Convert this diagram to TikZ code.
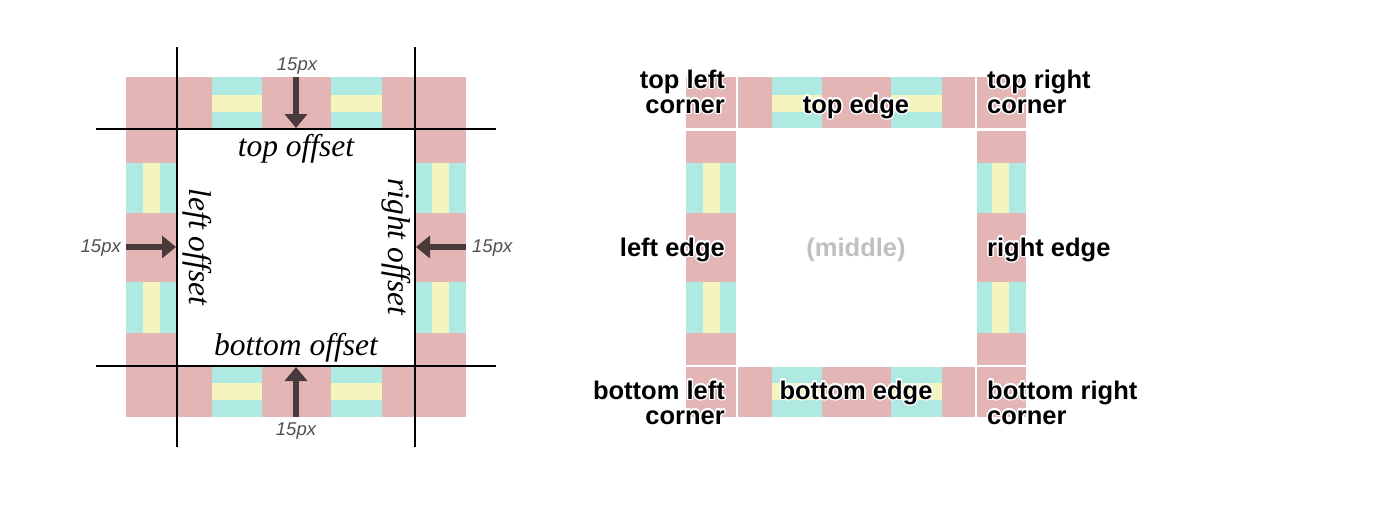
\documentclass[tikz,border=0pt]{standalone}
\usepackage{fontspec}
\setmainfont{Liberation Serif}
\setsansfont{Liberation Sans}
\usepackage[copies]{contour}
\contourlength{1.3pt}
\contournumber{20}
\usetikzlibrary{arrows.meta}
\definecolor{tilepink}{RGB}{228,181,181}
\definecolor{tilecyan}{RGB}{174,234,226}
\definecolor{tileyellow}{RGB}{244,244,190}
\definecolor{arrowbrown}{RGB}{72,58,58}
\definecolor{pxgray}{RGB}{80,80,80}
\definecolor{midgray}{RGB}{192,192,192}
\newcommand\hl[1]{\contour{white}{#1}}
\newcommand\borderpattern[2]{%
  \begin{scope}[shift={(#1,#2)}]
    \fill[tilepink] (0,0) rectangle (340,51);
    \fill[tilepink] (0,289) rectangle (340,340);
    \fill[tilepink] (0,51) rectangle (51,289);
    \fill[tilepink] (289,51) rectangle (340,289);
    \foreach \a/\b in {85.5/136,205/255.5} {
      \fill[tilecyan] (\a,0) rectangle (\b,51);
      \fill[tileyellow] (\a,17.5) rectangle (\b,34.5);
      \fill[tilecyan] (\a,289) rectangle (\b,340);
      \fill[tileyellow] (\a,306) rectangle (\b,323);
      \fill[tilecyan] (0,\a) rectangle (51,\b);
      \fill[tileyellow] (17,\a) rectangle (34,\b);
      \fill[tilecyan] (289,\a) rectangle (340,\b);
      \fill[tileyellow] (306,\a) rectangle (323,\b);
    }
  \end{scope}}
\tikzset{
  guide/.style={black, line width=2pt},
  gap/.style={white, line width=2.5pt},
  bigarrow/.style={arrowbrown, line width=6pt, -{Triangle[width=22pt,length=14pt]}},
  pxlabel/.style={inner sep=0pt, text=pxgray, font=\sffamily\itshape\fontsize{18.5}{18.5}\selectfont},
  offlabel/.style={inner sep=0pt, font=\itshape\fontsize{31.5}{31.5}\selectfont},
  edgelabel/.style={inner sep=0pt, font=\sffamily\bfseries\fontsize{25.5}{25}\selectfont},
}
\begin{document}
\begin{tikzpicture}[x=1pt,y=-1pt]
\fill[white] (0,0) rectangle (1392,512);
\useasboundingbox (0,0) rectangle (1392,512);
% ---------- left figure ----------
\borderpattern{126}{77}
\draw[guide] (177,47) -- (177,447);
\draw[guide] (415,47) -- (415,447);
\draw[guide] (96,129) -- (496,129);
\draw[guide] (96,366) -- (496,366);
\coordinate (ta0) at (296,77);  \coordinate (ta1) at (296,128);
\coordinate (ba0) at (296,417); \coordinate (ba1) at (296,367);
\coordinate (la0) at (126,247); \coordinate (la1) at (176,247);
\coordinate (ra0) at (466,247); \coordinate (ra1) at (416,247);
\draw[bigarrow] (ta0) -- (ta1);
\draw[bigarrow] (ba0) -- (ba1);
\draw[bigarrow] (la0) -- (la1);
\draw[bigarrow] (ra0) -- (ra1);
\node[pxlabel] (tpx) at (297,66) {15px};
\node[pxlabel] (bpx) at (296,431) {15px};
\node[pxlabel, anchor=east] (lpx) at (121,248) {15px};
\node[pxlabel, anchor=west] (rpx) at (472,248) {15px};
\node[offlabel, anchor=base] (toff) at (296,156) {top offset};
\node[offlabel, anchor=base] (boff) at (296,355) {bottom offset};
\node[offlabel, rotate=-90] (loff) at (197,247) {left offset};
\node[offlabel, rotate=-90] (roff) at (396,247) {right offset};
% ---------- right figure ----------
\borderpattern{686}{77}
\draw[gap] (737,77) -- (737,417);
\draw[gap] (976,77) -- (976,417);
\draw[gap] (686,129.5) -- (1026,129.5);
\draw[gap] (686,366) -- (1026,366);
\node[edgelabel, anchor=base east, align=right] (tlc) at (725,113) {\hl{top left}\\\hl{corner}};
\node[edgelabel, anchor=base] (te) at (856,113) {\hl{top edge}};
\node[edgelabel, anchor=base west, align=left] (trc) at (987,113) {\hl{top right}\\\hl{corner}};
\node[edgelabel, anchor=base east] (le) at (725,256) {\hl{left edge}};
\node[edgelabel, anchor=base, text=midgray] (mid) at (856,256) {(middle)};
\node[edgelabel, anchor=base west] (re) at (987,256) {\hl{right edge}};
\node[edgelabel, anchor=base east, align=right] (blc) at (725,424) {\hl{bottom left}\\\hl{corner}};
\node[edgelabel, anchor=base] (be) at (856,399) {\hl{bottom edge}};
\node[edgelabel, anchor=base west, align=left] (brc) at (987,424) {\hl{bottom right}\\\hl{corner}};
\end{tikzpicture}
\end{document}
